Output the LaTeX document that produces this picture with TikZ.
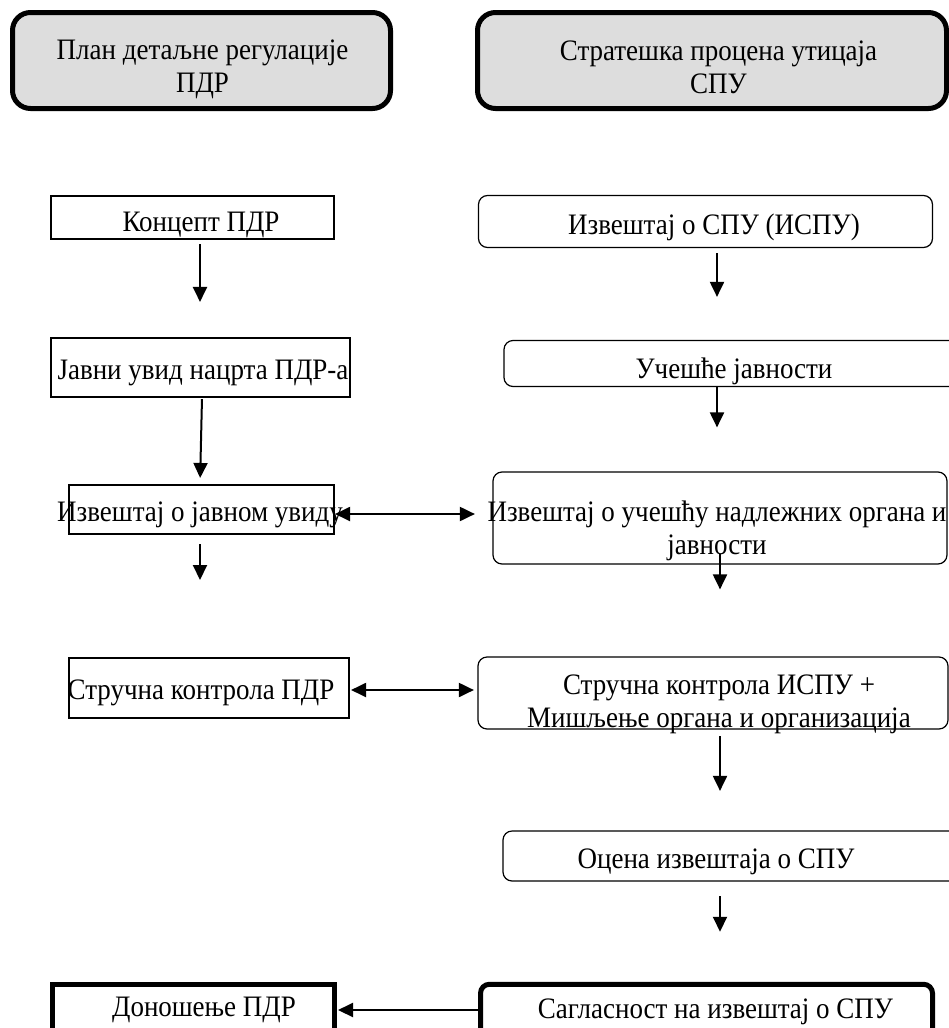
\documentclass[tikz,border=0pt]{standalone}
\usepackage{fontspec}
\usepackage{graphicx}
\setmainfont{Liberation Serif}
\usetikzlibrary{arrows.meta}
\definecolor{hdrfill}{RGB}{221,221,221}
\newcommand\bt[3]{\makebox[0pt]{\kern#1\kern#1\raisebox{#2}[0pt][0pt]{\scalebox{1}[1.1]{\begin{tabular}[b]{@{}c@{}}#3\end{tabular}}}}}
\begin{document}
\begin{tikzpicture}[x=1pt,y=-1pt,
  every node/.style={inner sep=0pt, font=\fontsize{27pt}{30pt}\selectfont},
  bx/.style 2 args={minimum width=#1, minimum height=#2},
  hdr/.style={draw, line width=5pt, rounded corners=18pt, fill=hdrfill},
  plainbox/.style={draw, line width=1.6pt},
  rbox/.style={draw, line width=1.2pt, rounded corners=9pt},
  thickbox/.style={draw, line width=5pt},
  thickrbox/.style={draw, line width=5pt, rounded corners=9pt},
  arr/.style={line width=2pt, -{Triangle[width=14pt,length=15pt]}},
  darr/.style={line width=2pt, {Triangle[width=14pt,length=15pt]}-{Triangle[width=14pt,length=15pt]}}
]
\useasboundingbox (0,0) rectangle (949,1028);
\clip (0,0) rectangle (949,1028);
% left column
\node[hdr, bx={378pt}{96pt}] (hdrL) at (201.5,60.5) {\bt{1pt}{-32pt}{План детаљне регулације\\ПДР}};
\node[plainbox, bx={283.5pt}{43.5pt}] (kon) at (192.5,217.5) {\bt{8.5pt}{-14pt}{Концепт ПДР}};
\node[plainbox, bx={299.5pt}{59.5pt}] (javni) at (200.5,367.5) {\bt{2.5pt}{-11.5pt}{Јавни увид нацрта ПДР-а}};
\node[plainbox, bx={265.5pt}{49.5pt}] (izvJU) at (201.5,509.5) {\bt{-1.5pt}{-12pt}{Извештај о јавном увиду}};
\node[plainbox, bx={280.5pt}{60.5pt}] (struL) at (209,688) {\bt{-8pt}{-11pt}{Стручна контрола ПДР}};
\node[thickbox, bx={282pt}{55.5pt}] (donos) at (193.5,1012) {\bt{10.5pt}{-4pt}{Доношење ПДР}};
% right column
\node[hdr, bx={469pt}{96pt}] (hdrR) at (712,60.5) {\bt{6.5pt}{-33pt}{Стратешка процена утицаја\\СПУ}};
\node[rbox, bx={454pt}{52pt}] (ispu) at (705.5,221.5) {\bt{8.5pt}{-13pt}{Извештај о СПУ (ИСПУ)}};
\node[rbox, bx={456pt}{46pt}] (ucesce) at (732,363.5) {\bt{2pt}{-14.5pt}{Учешће јавности}};
\node[rbox, bx={454pt}{92pt}] (izvUc) at (720,518) {\bt{-3pt}{-36pt}{Извештај о учешћу надлежних органа и\\јавности}};
\node[rbox, bx={470pt}{72pt}] (struR) at (713,693) {\bt{6pt}{-34pt}{Стручна контрола ИСПУ +\\Мишљење органа и организација}};
\node[rbox, bx={457pt}{50pt}] (ocena) at (731.5,856) {\bt{-15.5pt}{-12pt}{Оцена извештаја о СПУ}};
\node[thickrbox, bx={452pt}{55.5pt}] (sagl) at (706.5,1012) {\bt{9pt}{-6pt}{Сагласност на извештај о СПУ}};
\coordinate (c3) at (200,580);
% connectors
\draw[arr, shorten <=4pt, shorten >=35pt] ([xshift=7.5pt]kon.south) -- ([xshift=-0.5pt]javni.north);
\draw[arr, shorten <=1pt, shorten >=6pt] ([xshift=1.5pt]javni.south) -- ([xshift=-1.5pt]izvJU.north);
\draw[arr, shorten <=9pt] ([xshift=-1.5pt]izvJU.south) -- (c3);
\draw[arr, shorten <=5pt, shorten >=43pt] ([xshift=11.5pt]ispu.south) -- ([xshift=-15pt]ucesce.north);
\draw[arr, shorten >=44pt] ([xshift=-15pt]ucesce.south) -- ([xshift=-3pt]izvUc.north);
\draw[arr, shorten <=-11pt, shorten >=67pt] (izvUc.south) -- ([xshift=7pt]struR.north);
\draw[arr, shorten <=6.5pt, shorten >=39.5pt] ([xshift=7pt]struR.south) -- ([xshift=-11.5pt]ocena.north);
\draw[arr, shorten <=14.5pt, shorten >=50pt] ([xshift=-11.5pt]ocena.south) -- ([xshift=13.5pt]sagl.north);
\draw[darr, shorten >=17.5pt] ([yshift=-4.5pt]izvJU.east) -- ([yshift=4pt]izvUc.west);
\draw[darr, shorten <=1pt, shorten >=3.5pt] ([yshift=-2pt]struL.east) -- ([yshift=3pt]struR.west);
\draw[arr, shorten >=1pt] ([yshift=2pt]sagl.west) -- ([yshift=2pt]donos.east);
\end{tikzpicture}
\end{document}
